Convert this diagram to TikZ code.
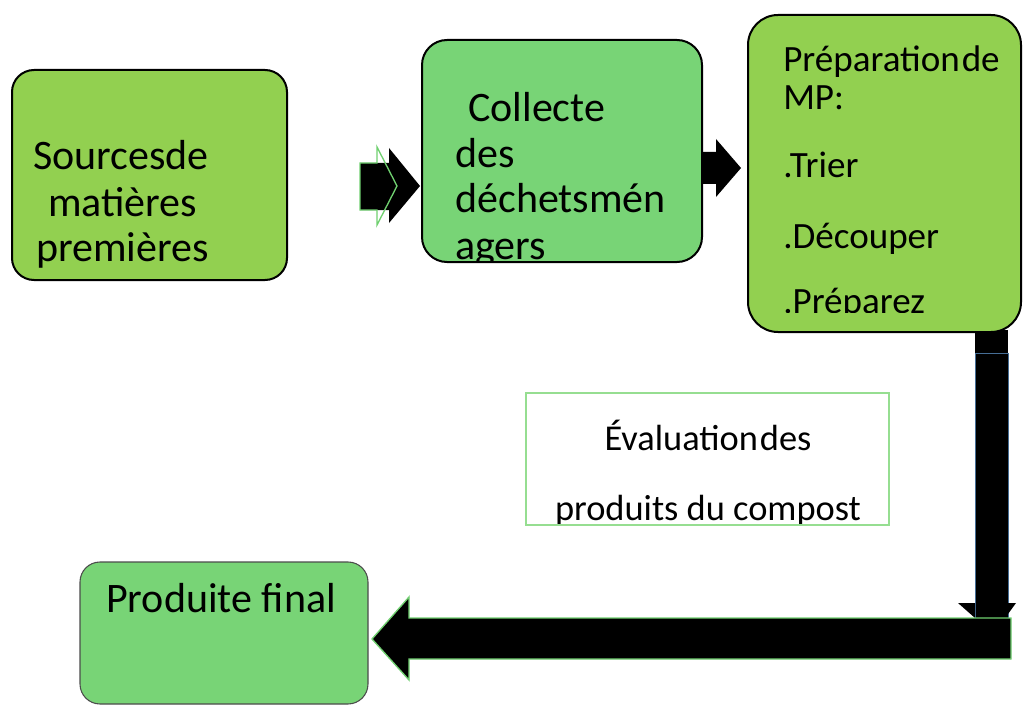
\documentclass[tikz,border=0pt]{standalone}
\usepackage{fontspec}
\setmainfont{Carlito}
\usetikzlibrary{fit}
\definecolor{ygreen}{RGB}{146,208,80}
\definecolor{lgreen}{RGB}{120,212,118}
\definecolor{ogreen}{RGB}{112,208,112}
\definecolor{eoutline}{RGB}{150,222,145}
\definecolor{bblue}{RGB}{70,110,150}
\tikzset{
  box/.style={draw=black, line width=1.5pt, inner sep=0pt},
  txt/.style={anchor=base west, inner sep=0pt, font=\fontsize{31.5}{36}\selectfont},
  txts/.style={anchor=base west, inner sep=0pt, font=\fontsize{27.8}{32}\selectfont},
  txtc/.style={anchor=base, inner sep=0pt, font=\fontsize{27.3}{32}\selectfont},
  blockarrow/.style={fill=black},
}
\begin{document}
\begin{tikzpicture}[x=0.75pt,y=-0.75pt]
\useasboundingbox (0,0) rectangle (1024,706);

% vertical bar under box 3
\fill[black] (975,330) rectangle (1008,620);
\draw[bblue, line width=0.6pt] (975,353) rectangle (1008,618);
\fill[black] (958,603) -- (975,603) -- (975,618) -- cycle;
\fill[black] (1008,603) -- (1016,603) -- (1008,614) -- cycle;

% horizontal arrow to final product
\filldraw[fill=black, draw=ogreen, line width=1pt]
  (1011,618) -- (409,618) -- (409,597) -- (372,639) -- (409,680) -- (409,659) -- (1011,659) -- cycle;

% arrow 1
\fill[black] (360,163) -- (389,163) -- (389,148) -- (420,186) -- (389,223) -- (389,210) -- (360,210) -- cycle;
\draw[ogreen, line width=1pt] (360,163) -- (377,163) -- (377,147) -- (397,186) -- (377,225) -- (377,210) -- (360,210) -- cycle;

% arrow 2
\fill[black] (698,152) -- (716,152) -- (716,139) -- (741,168) -- (716,197) -- (716,184) -- (698,184) -- cycle;

% box 1
\node[box, fill=ygreen, rounded corners=22pt*0.75, fit={(12,70) (287,280)}] (src) {};
\node[txt] (s1) at (33,170) {Sourcesde};
\node[txt] (s2) at (48,216) {matières};
\node[txt] (s3) at (36,261) {premières};

% box 2
\node[box, fill=lgreen, rounded corners=25pt*0.75, fit={(422,40) (702,262)}] (col) {};
\begin{scope}
\clip (422,40) rectangle (702,260);
\node[txt] (c1) at (468,122) {Collecte};
\node[txt] (c2) at (455,167) {des};
\node[txt] (c3) at (455,213) {déchetsmén};
\node[txt] (c4) at (455,259) {agers};
\end{scope}

% box 3
\node[box, fill=ygreen, rounded corners=30pt*0.75, fit={(748,15) (1021,332)}] (prep) {};
\begin{scope}
\clip (748,15) rectangle (1021,312);
\node[txts] (p1) at (783,72) {Préparation\kern1.5pt de};
\node[txts] (p2) at (783,110) {MP:};
\node[txts] (p3) at (783,177) {.Trier};
\node[txts] (p4) at (783,248) {.Découper};
\node[txts] (p5) at (783,313) {.Préparez};
\end{scope}

% evaluation box
\begin{scope}
\clip (526,393) rectangle (889,525);
\node[txtc] (e1) at (708,450) {Évaluation\kern1.5pt des};
\node[txtc] (e2) at (708,520) {produits du compost};
\end{scope}
\node[draw=eoutline, line width=1pt, inner sep=0pt, fit={(526,393) (889,525)}] (eval) {};

% box 5
\node[draw=black!70, line width=0.8pt, fill=lgreen, rounded corners=20pt*0.75, inner sep=0pt, fit={(80,562) (368,704)}] (fin) {};
\node[txt] (f1) at (106,612) {Produite final};

\end{tikzpicture}
\end{document}
